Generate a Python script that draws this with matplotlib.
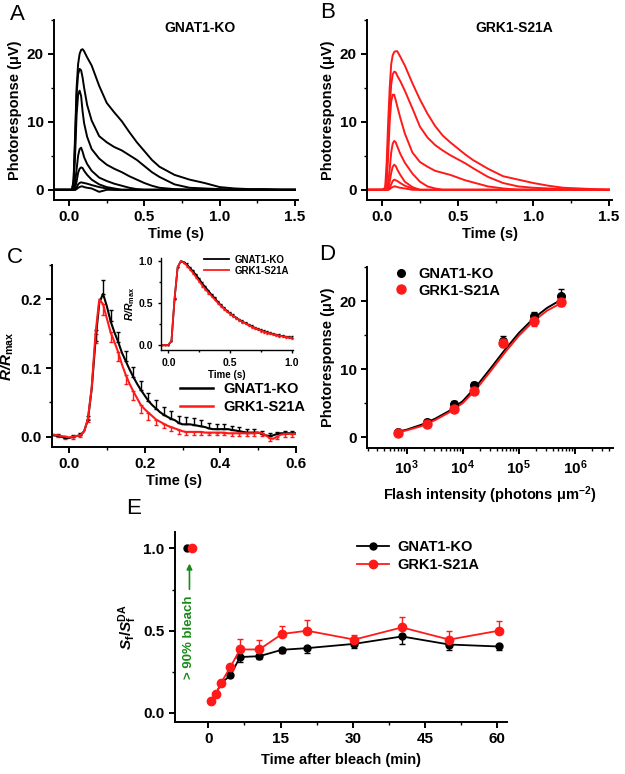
import numpy as np
import matplotlib
matplotlib.use("Agg")
import matplotlib.pyplot as plt
from matplotlib.lines import Line2D
from matplotlib.ticker import FormatStrFormatter, MultipleLocator, LogLocator, NullFormatter

plt.rcParams['font.family'] = ['Liberation Sans', 'DejaVu Sans']
plt.rcParams['font.weight'] = 'bold'
plt.rcParams['axes.labelweight'] = 'bold'
plt.rcParams['mathtext.fontset'] = 'custom'
plt.rcParams['mathtext.rm'] = 'Liberation Sans:bold'
plt.rcParams['mathtext.bf'] = 'Liberation Sans:bold'
plt.rcParams['mathtext.it'] = 'Liberation Sans:italic:bold'
plt.rcParams['mathtext.bfit'] = 'Liberation Sans:italic:bold'

# ---- Panels A/B: flash responses (uV) ----
t_ab = [-0.1, 0.0, 0.02, 0.03, 0.04, 0.05, 0.06, 0.07, 0.08, 0.09, 0.1, 0.12, 0.15, 0.2, 0.25,
        0.3, 0.35, 0.4, 0.45, 0.5, 0.55, 0.6, 0.7, 0.8, 0.9, 1.0, 1.1, 1.2, 1.3, 1.4, 1.5]

ko_traces = [
    [0, 0, 0, 1.5, 8, 15, 18.5, 20, 20.6, 20.7, 20.4, 19.5, 18.3, 15.3, 12.8,
     11.4, 10.1, 8.5, 7.0, 5.7, 4.4, 3.4, 2.2, 1.5, 1.0, 0.4, 0.2, 0.1, 0.1, 0, 0],
    [0, 0, 0, 1.2, 7, 14, 17, 17.8, 17.6, 16.5, 15, 12.5, 10.2, 7.9, 7.0,
     6.3, 5.8, 5.1, 4.4, 3.5, 2.6, 1.9, 0.8, 0.3, 0.2, 0.1, 0, 0, 0, 0, 0],
    [0, 0, 0, 1, 5, 11, 14, 14.6, 13.8, 11.5, 9.8, 7.8, 6.0, 4.6, 3.7,
     3.1, 2.6, 2.0, 1.5, 1.0, 0.6, 0.3, 0.1, 0, 0, 0, 0, 0, 0, 0, 0],
    [0, 0, 0, 0.2, 1, 3, 5, 6, 6.2, 5.6, 4.8, 3.8, 2.8, 1.8, 1.3,
     0.9, 0.6, 0.3, 0.1, 0, 0, 0, 0, 0, 0, 0, 0, 0, 0, 0, 0],
    [0, 0, 0, 0, 0.3, 1.2, 2.5, 3.1, 3.3, 3.2, 2.8, 2.2, 1.5, 0.8, 0.4,
     0.2, 0, 0, 0, 0, 0, 0, 0, 0, 0, 0, 0, 0, 0, 0, 0],
    [0, 0, 0, 0, 0, 0.3, 0.8, 1.0, 1.1, 1.05, 1.0, 0.9, 0.7, 0.4, 0.2,
     0, 0, 0, 0, 0, 0, 0, 0, 0, 0, 0, 0, 0, 0, 0, 0],
    [0, 0, 0, 0, 0, 0.1, 0.3, 0.4, 0.5, 0.5, 0.4, 0.3, 0.2, -0.3, 0,
     0, 0, 0, 0, 0, 0, 0, 0, 0, 0, 0, 0, 0, 0, 0, 0],
]

s21a_traces = [
    [0, 0, 0.3, 4, 10, 15, 18.5, 19.8, 20.3, 20.4, 20.4, 19.6, 18.3, 15.7, 13.3,
     11.2, 9.4, 8.0, 7.0, 6.1, 5.2, 4.4, 3.1, 2.0, 1.5, 1.0, 0.6, 0.3, 0.2, 0.1, 0],
    [0, 0, 0, 2, 7, 12, 15.5, 17, 17.4, 17.3, 16.8, 16, 14.6, 12.0, 9.3,
     7.7, 6.6, 5.8, 5.1, 4.5, 3.9, 3.2, 1.9, 1.0, 0.5, 0.3, 0.2, 0.1, 0, 0, 0],
    [0, 0, 0, 1, 5, 10, 13, 14, 14.0, 13.2, 12.3, 10.6, 8.3, 5.5, 4.1,
     3.4, 2.8, 2.5, 2.2, 1.8, 1.4, 1.1, 0.5, 0.2, 0, 0, 0, 0, 0, 0, 0],
    [0, 0, 0, 0, 1, 3, 5.5, 6.8, 7.2, 7.0, 6.4, 5.3, 4.0, 2.4, 1.2,
     0.5, 0.2, 0, 0, 0, 0, 0, 0, 0, 0, 0, 0, 0, 0, 0, 0],
    [0, 0, 0, 0, 0.3, 1.2, 2.5, 3.4, 3.7, 3.5, 3.0, 2.2, 1.2, 0.4, 0,
     0, 0, 0, 0, 0, 0, 0, 0, 0, 0, 0, 0, 0, 0, 0, 0],
    [0, 0, 0, 0, 0, 0.3, 0.8, 1.3, 1.5, 1.4, 1.3, 1.0, 0.6, 0.2, 0,
     0, 0, 0, 0, 0, 0, 0, 0, 0, 0, 0, 0, 0, 0, 0, 0],
    [0, 0, 0, 0, 0, 0.1, 0.3, 0.4, 0.5, 0.5, 0.4, 0.3, 0.2, 0, 0,
     0, 0, 0, 0, 0, 0, 0, 0, 0, 0, 0, 0, 0, 0, 0, 0],
]

# ---- Panel C: mean normalized dim-flash responses ----
t_c = [round(-0.05 + 0.01 * i, 2) for i in range(66)]
ko_c = [0.002, 0.002, 0.001, 0.0, -0.002, -0.002, 0.0, 0.001, 0.002, 0.008,
        0.025, 0.07, 0.14, 0.195, 0.208, 0.19, 0.168, 0.152, 0.138, 0.122,
        0.11, 0.098, 0.087, 0.077, 0.068, 0.06, 0.052, 0.046, 0.041, 0.036,
        0.032, 0.029, 0.026, 0.024, 0.02, 0.018, 0.018, 0.018, 0.017, 0.016,
        0.015, 0.014, 0.012, 0.011, 0.011, 0.011, 0.011, 0.011, 0.01, 0.009,
        0.008, 0.007, 0.006, 0.006, 0.006, 0.006, 0.004, 0.002, 0.001, 0.002,
        0.004, 0.005, 0.005, 0.005, 0.005, 0.005]
s21a_c = [0.003, 0.003, 0.002, 0.001, 0.0, -0.001, 0.0, 0.001, 0.002, 0.008,
          0.026, 0.072, 0.15, 0.2, 0.193, 0.172, 0.152, 0.138, 0.123, 0.105,
          0.09, 0.077, 0.066, 0.056, 0.046, 0.04, 0.035, 0.03, 0.025, 0.022,
          0.019, 0.016, 0.014, 0.012, 0.01, 0.008, 0.007, 0.007, 0.007, 0.007,
          0.007, 0.006, 0.006, 0.006, 0.006, 0.006, 0.006, 0.005, 0.005, 0.005,
          0.005, 0.005, 0.005, 0.005, 0.005, 0.006, 0.005, 0.002, -0.002, -0.003,
          0.0, 0.003, 0.004, 0.004, 0.004, 0.004]
ko_c_err = [0.003] * 10 + [0.005, 0.01, 0.015, 0.018, 0.02, 0.018, 0.017, 0.016, 0.015, 0.015,
            0.015, 0.014, 0.014, 0.013, 0.013, 0.012, 0.012, 0.012, 0.012, 0.012,
            0.011, 0.011, 0.011, 0.011, 0.01, 0.01, 0.01, 0.01, 0.01, 0.009,
            0.009, 0.009, 0.008, 0.008, 0.008, 0.007, 0.007, 0.007, 0.006, 0.006,
            0.006, 0.006, 0.005, 0.005, 0.005, 0.004, 0.004, 0.004, 0.004, 0.004,
            0.003, 0.003, 0.003, 0.003, 0.003, 0.003]
s21a_c_err = [0.003] * 10 + [0.005, 0.01, 0.014, 0.016, 0.016, 0.015, 0.014, 0.014, 0.013, 0.013,
              0.013, 0.012, 0.012, 0.011, 0.011, 0.01, 0.01, 0.009, 0.008, 0.008,
              0.007, 0.007, 0.006, 0.006, 0.006, 0.005, 0.005, 0.005, 0.005, 0.005,
              0.004, 0.004, 0.004, 0.004, 0.004, 0.004, 0.004, 0.004, 0.004, 0.004,
              0.004, 0.004, 0.004, 0.004, 0.004, 0.004, 0.004, 0.004, 0.004, 0.004,
              0.004, 0.004, 0.004, 0.004, 0.004, 0.004]

# inset: normalized to peak
t_in = [round(-0.05 + 0.025 * i, 3) for i in range(43)]
ko_in = [0, 0, 0, 0.05, 0.55, 0.93, 1.0, 0.99, 0.96, 0.92, 0.88, 0.835, 0.785, 0.735,
         0.69, 0.645, 0.6, 0.56, 0.515, 0.475, 0.44, 0.405, 0.378, 0.35, 0.325, 0.3,
         0.28, 0.26, 0.24, 0.222, 0.205, 0.19, 0.175, 0.162, 0.15, 0.14, 0.13, 0.121,
         0.113, 0.105, 0.098, 0.092, 0.087]
s21a_in = [0, 0, 0, 0.05, 0.56, 0.93, 1.0, 0.985, 0.95, 0.905, 0.86, 0.81, 0.76, 0.71,
           0.665, 0.625, 0.585, 0.545, 0.505, 0.468, 0.435, 0.402, 0.374, 0.347, 0.322, 0.298,
           0.277, 0.257, 0.238, 0.22, 0.203, 0.188, 0.173, 0.16, 0.148, 0.138, 0.128, 0.119,
           0.111, 0.103, 0.096, 0.09, 0.085]

# ---- Panel D: intensity-response ----
flash_int = [700, 2300, 6900, 16000, 52000, 186000, 560000]
ko_amp = [0.8, 2.2, 4.85, 7.6, 14.1, 17.8, 20.7]
ko_amp_err = [0.3, 0.3, 0.4, 0.5, 0.8, 0.6, 1.1]
s21a_amp = [0.6, 1.9, 4.1, 6.8, 13.8, 17.0, 19.8]
s21a_amp_err = [0.2, 0.3, 0.4, 0.5, 0.6, 0.7, 0.5]
fit_int = [700, 1000, 1800, 3200, 5600, 10000, 18000, 32000, 56000, 100000, 180000, 320000, 600000]
ko_fit = [0.8, 1.1, 1.8, 2.7, 3.8, 5.3, 7.6, 10.2, 12.8, 15.3, 17.4, 19.0, 20.3]
s21a_fit = [0.7, 1.0, 1.6, 2.5, 3.6, 5.0, 7.2, 9.8, 12.4, 14.9, 17.0, 18.6, 19.8]

# ---- Panel E: sensitivity recovery after bleach ----
dark_x_ko, dark_x_s21a = -4.4, -3.4
t_e = [0.6, 1.6, 2.6, 4.6, 6.6, 10.6, 15.3, 20.5, 30.3, 40.2, 50.0, 60.3]
ko_e = [0.073, 0.113, 0.18, 0.228, 0.34, 0.345, 0.384, 0.394, 0.42, 0.465, 0.416, 0.404]
ko_e_err = [0.005, 0.008, 0.01, 0.01, 0.03, 0.02, 0.02, 0.03, 0.025, 0.045, 0.035, 0.02]
s21a_e = [0.073, 0.113, 0.18, 0.28, 0.386, 0.386, 0.48, 0.5, 0.446, 0.52, 0.446, 0.5]
s21a_e_err = [0.005, 0.008, 0.01, 0.02, 0.065, 0.06, 0.05, 0.065, 0.03, 0.065, 0.05, 0.06]

RED = '#ff1a1a'
W, H = 625, 774


def rect(l, r, t, b):
    return [l / W, 1 - b / H, (r - l) / W, (b - t) / H]


def style(ax, lw=1.4, fs=11):
    for s in ['top', 'right']:
        ax.spines[s].set_visible(False)
    for s in ['left', 'bottom']:
        ax.spines[s].set_linewidth(lw)
    ax.tick_params(which='major', direction='out', length=4, width=lw, labelsize=fs)
    ax.tick_params(which='minor', direction='out', length=2.5, width=1.0)
    for lab in ax.get_xticklabels() + ax.get_yticklabels():
        lab.set_fontweight('bold')


def panel_letter(x, y, s):
    fig.text(x / W, 1 - y / H, s, fontsize=16, fontweight='normal', ha='center', va='center')


fig = plt.figure(figsize=(6.25, 7.74), dpi=100)

# A and B
for pos, traces, color, title in [
        (rect(54, 298, 20, 200), ko_traces, 'black', 'GNAT1-KO'),
        (rect(367, 612, 20, 200), s21a_traces, RED, 'GRK1-S21A')]:
    ax = fig.add_axes(pos)
    for tr in traces:
        ax.plot(t_ab, tr, color=color, lw=1.4)
    ax.set_xlim(-0.1, 1.52)
    ax.set_ylim(-1.5, 25)
    ax.xaxis.set_major_locator(MultipleLocator(0.5))
    ax.xaxis.set_minor_locator(MultipleLocator(0.25))
    ax.xaxis.set_major_formatter(FormatStrFormatter('%.1f'))
    ax.yaxis.set_major_locator(MultipleLocator(10))
    ax.yaxis.set_minor_locator(MultipleLocator(5))
    ax.set_xlabel('Time (s)', fontsize=10.5, labelpad=2)
    ax.set_ylabel('Photoresponse (μV)', fontsize=10.5, labelpad=3)
    ax.text(0.6, 0.955, title, transform=ax.transAxes, ha='center', va='center',
            fontsize=10, fontweight='bold')
    style(ax)
panel_letter(17, 14, 'A')
panel_letter(328, 13, 'B')

# C
axc = fig.add_axes(rect(52, 296, 265, 447))
zeros_c = [0] * len(t_c)
axc.errorbar(t_c, ko_c, yerr=[zeros_c, ko_c_err], color='black', lw=1.5, elinewidth=1.0,
             capsize=1.5, errorevery=(0, 2))
axc.errorbar(t_c, s21a_c, yerr=[s21a_c_err, zeros_c], color=RED, lw=1.5, elinewidth=1.0,
             capsize=1.5, errorevery=(0, 2))
axc.set_xlim(-0.045, 0.6)
axc.set_ylim(-0.015, 0.25)
axc.xaxis.set_major_locator(MultipleLocator(0.2))
axc.xaxis.set_minor_locator(MultipleLocator(0.1))
axc.xaxis.set_major_formatter(FormatStrFormatter('%.1f'))
axc.yaxis.set_major_locator(MultipleLocator(0.1))
axc.yaxis.set_minor_locator(MultipleLocator(0.05))
axc.yaxis.set_major_formatter(FormatStrFormatter('%.1f'))
axc.set_xlabel('Time (s)', fontsize=10.5, labelpad=2)
axc.set_ylabel(r'$\mathbfit{R/R}_{\mathbf{max}}$', fontsize=11, labelpad=3)
style(axc)
line_handles = [Line2D([], [], color='black', lw=1.8), Line2D([], [], color=RED, lw=1.8)]
axc.legend(line_handles, ['GNAT1-KO', 'GRK1-S21A'], loc='upper left',
           bbox_to_anchor=(0.5, 0.39), frameon=False, fontsize=10.5,
           handlelength=2.3, handletextpad=0.7, labelspacing=0.3, borderaxespad=0)
panel_letter(15, 258, 'C')

# inset
axi = fig.add_axes(rect(161, 293, 258, 350))
zeros_in = [0] * len(t_in)
ko_in_err = [0.0] * 8 + [0.015] * 35
s21a_in_err = [0.0] * 8 + [0.012] * 35
axi.errorbar(t_in, ko_in, yerr=[zeros_in, ko_in_err], color='black', lw=1.3, elinewidth=0.8,
             capsize=1.0)
axi.errorbar(t_in, s21a_in, yerr=[s21a_in_err, zeros_in], color=RED, lw=1.3, elinewidth=0.8,
             capsize=1.0)
axi.set_xlim(-0.06, 1.01)
axi.set_ylim(-0.06, 1.04)
axi.xaxis.set_major_locator(MultipleLocator(0.5))
axi.xaxis.set_minor_locator(MultipleLocator(0.25))
axi.xaxis.set_major_formatter(FormatStrFormatter('%.1f'))
axi.yaxis.set_major_locator(MultipleLocator(0.5))
axi.yaxis.set_minor_locator(MultipleLocator(0.25))
axi.yaxis.set_major_formatter(FormatStrFormatter('%.1f'))
axi.set_xlabel('Time (s)', fontsize=7, labelpad=1)
axi.set_ylabel(r'$\mathbfit{R/R}_{\mathbf{max}}$', fontsize=7.5, labelpad=1)
style(axi, lw=1.0, fs=7.5)
axi.tick_params(which='major', length=2.5)
axi.tick_params(which='minor', length=1.5)
inset_handles = [Line2D([], [], color='black', lw=1.3), Line2D([], [], color=RED, lw=1.3)]
axi.legend(inset_handles, ['GNAT1-KO', 'GRK1-S21A'], loc='upper right',
           bbox_to_anchor=(1.0, 1.08), frameon=False, fontsize=7,
           handlelength=2.6, handletextpad=0.6, labelspacing=0.1, borderaxespad=0)

# D
axd = fig.add_axes(rect(367, 613, 267, 448))
axd.plot(fit_int, ko_fit, color='black', lw=1.4)
axd.plot(fit_int, s21a_fit, color=RED, lw=1.4)
axd.errorbar(flash_int, ko_amp, yerr=[[0] * 7, ko_amp_err], fmt='o', color='black', ms=5.5,
             elinewidth=1.0, capsize=2)
axd.errorbar(flash_int, s21a_amp, yerr=[s21a_amp_err, [0] * 7], fmt='o', color=RED, ms=6.5,
             elinewidth=1.0, capsize=2)
axd.set_xscale('log')
axd.set_xlim(10 ** 2.29, 10 ** 6.68)
axd.set_ylim(-1.6, 25)
axd.xaxis.set_minor_locator(LogLocator(base=10, subs=np.arange(2, 10), numticks=20))
axd.xaxis.set_minor_formatter(NullFormatter())
axd.set_xticks([1e3, 1e4, 1e5, 1e6])
axd.set_xticklabels([r'$\mathbf{10^{3}}$', r'$\mathbf{10^{4}}$', r'$\mathbf{10^{5}}$', r'$\mathbf{10^{6}}$'])
axd.yaxis.set_major_locator(MultipleLocator(10))
axd.yaxis.set_minor_locator(MultipleLocator(5))
axd.set_xlabel(r'Flash intensity (photons μm$^{\mathbf{-2}}$)', fontsize=10.5, labelpad=5)
axd.set_ylabel('Photoresponse (μV)', fontsize=10.5, labelpad=3)
style(axd)
dot_handles = [Line2D([], [], ls='none', marker='o', color='black', ms=5.5),
               Line2D([], [], ls='none', marker='o', color=RED, ms=6.5)]
axd.legend(dot_handles, ['GNAT1-KO', 'GRK1-S21A'], loc='upper left',
           bbox_to_anchor=(0.08, 1.03), frameon=False, fontsize=10.5,
           handletextpad=0.6, labelspacing=0.15, borderaxespad=0, handlelength=1.2)
panel_letter(327, 254, 'D')

# E
axe = fig.add_axes(rect(175, 507, 532, 722))
ne = len(t_e)
axe.errorbar(t_e, ko_e, yerr=[ko_e_err, [0] * ne], fmt='-o', color='black', ms=5, lw=1.3,
             elinewidth=1.0, capsize=2, zorder=2)
axe.errorbar(t_e, s21a_e, yerr=[[0] * ne, s21a_e_err], fmt='-o', color=RED, ms=6, lw=1.3,
             elinewidth=1.0, capsize=2, zorder=3)
axe.plot([dark_x_ko], [1.0], 'o', color='black', ms=5)
axe.plot([dark_x_s21a], [1.0], 'o', color=RED, ms=6)
axe.annotate('', xy=(-3.9, 0.925), xytext=(-3.9, 0.735),
             arrowprops=dict(arrowstyle='-|>', color='#1a8a1a', lw=1.2, mutation_scale=8))
axe.text(-3.9, 0.46, '> 90% bleach', rotation=90, color='#1a8a1a', fontsize=9.5,
         fontweight='bold', ha='center', va='center')
axe.set_xlim(-6.9, 62)
axe.set_ylim(-0.055, 1.1)
axe.xaxis.set_major_locator(MultipleLocator(15))
axe.xaxis.set_minor_locator(MultipleLocator(7.5))
axe.yaxis.set_major_locator(MultipleLocator(0.5))
axe.yaxis.set_minor_locator(MultipleLocator(0.25))
axe.yaxis.set_major_formatter(FormatStrFormatter('%.1f'))
axe.set_xlabel('Time after bleach (min)', fontsize=10.5, labelpad=5)
axe.set_ylabel(r'$\mathbfit{S}_{\mathbf{f}}\mathbf{/}\mathbfit{S}_{\mathbf{f}}^{\mathbf{DA}}$',
               fontsize=11, labelpad=3)
style(axe)
lm_handles = [Line2D([], [], color='black', lw=1.3, marker='o', ms=5),
              Line2D([], [], color=RED, lw=1.3, marker='o', ms=6)]
axe.legend(lm_handles, ['GNAT1-KO', 'GRK1-S21A'], loc='upper left',
           bbox_to_anchor=(0.53, 0.99), frameon=False, fontsize=10.5,
           handlelength=2.2, handletextpad=0.6, labelspacing=0.3, borderaxespad=0)
panel_letter(134, 508, 'E')

fig.savefig('out.png', dpi=100)
